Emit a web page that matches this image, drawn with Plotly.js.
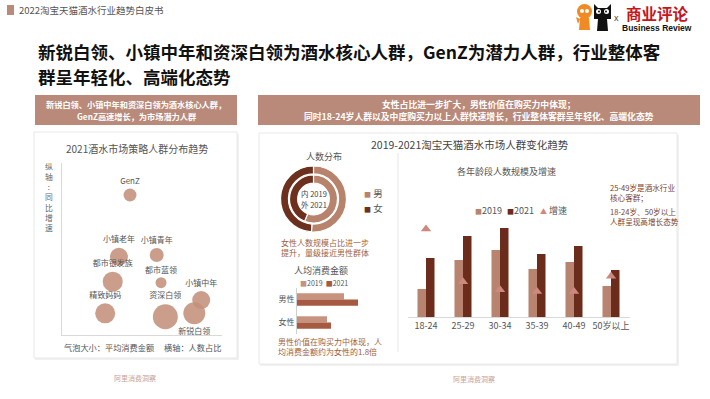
<!DOCTYPE html>
<html><head><meta charset="utf-8">
<script src="https://cdn.plot.ly/plotly-3.0.1.min.js"></script>
<style>html,body{margin:0;padding:0;background:#fff;overflow:hidden}#chart{width:710px;height:399px;}</style>
</head><body><div id="chart"></div>
<script>
// ---------------- DATA ----------------
const bubbleGroups = ['GenZ','小镇老年','小镇青年','都市银发族','都市蓝领','小镇中年','精致妈妈','资深白领','新锐白领'];
const bubbleShare  = [42.5, 35.6, 59.2, 31.7, 61.9, 87.0, 27.0, 64.6, 82.7];   // 横轴：人数占比
const bubbleGrowth = [81.4, 45.5, 46.5, 31.0, 30.4, 20.3, 12.6, 10.6, 12.6];   // 纵轴：同比增速
const bubbleSpend  = [13, 18, 14, 20, 11, 18, 20, 25, 22];                     // 气泡大小：平均消费金额

const genderLabels = ['男','女'];
const gender2019 = [56, 44];   // 内圈
const gender2021 = [51, 49];   // 外圈

const spendCats = ['男性','女性'];
const spend2019 = [47, 30];
const spend2021 = [61, 34];

const ageCats = ['18-24','25-29','30-34','35-39','40-49','50岁以上'];
const age2019 = [28, 57, 67, 48, 55, 31];
const age2021 = [59, 81, 89, 63, 71, 47];
const ageGrowth = [1.10, 0.44, 0.34, 0.32, 0.32, 0.51];

const yearNames = ['2019','2021'];
const growthName = '增速';

// ---------------- HELPERS ----------------
const W = 710, H = 399;
const px = x => x / W, py = y => 1 - y / H;
const FONT = '"Noto Sans CJK SC","Noto Sans",sans-serif';
const HEAD = '#b98a79';
const C19 = '#b9846f', C21 = '#6b2c1b', CTRI = '#cf8880', CBUB = '#c4917c';
const CM = '#b7836d', CF = '#6e301e';
const CS19 = '#c7937f', CS21 = '#a65a42';
const BROWN_TXT = '#a0623f';

function T(text, x, y, size, color, o) {
  return Object.assign({xref:'paper', yref:'paper', x:px(x), y:py(y), text:text, showarrow:false,
    font:{family:FONT, size:size, color:color}, xanchor:'center', yanchor:'middle'}, o || {});
}
function R(x0,y0,x1,y1,fill,line,type){
  return {type:type||'rect', xref:'paper', yref:'paper', x0:px(x0), x1:px(x1), y0:py(y1), y1:py(y0),
    fillcolor:fill, line:line||{width:0}, layer:'below'};
}
function P(pts, fill){
  let d = pts.map((p,i)=>(i?'L':'M')+px(p[0]).toFixed(5)+','+py(p[1]).toFixed(5)).join('')+'Z';
  return {type:'path', xref:'paper', yref:'paper', path:d, fillcolor:fill, line:{width:0}, layer:'above'};
}

// ---------------- TRACES ----------------
const traces = [];
traces.push({
  type:'scatter', mode:'markers+text', x:bubbleShare, y:bubbleGrowth, text:bubbleGroups,
  textposition: bubbleGroups.map(g => g === '新锐白领' ? 'bottom center' : 'top center'),
  textfont:{family:FONT, size:8, color:'#555'},
  marker:{size:bubbleSpend, sizemode:'diameter', sizeref:1, color:CBUB, opacity:0.88, line:{width:0}},
  xaxis:'x', yaxis:'y', cliponaxis:false, hoverinfo:'skip', showlegend:false
});
// donut: outer 2021, inner 2019
const dcx = 313.5, dcy = 199;
traces.push({
  type:'pie', labels:genderLabels, values:gender2021, hole:0.76, sort:false, direction:'clockwise', rotation:0,
  domain:{x:[px(dcx-33), px(dcx+33)], y:[py(dcy+33), py(dcy-33)]},
  marker:{colors:[CM, CF], line:{color:'#fff', width:1.2}}, textinfo:'none', hoverinfo:'skip', showlegend:false
});
traces.push({
  type:'pie', labels:genderLabels, values:gender2019, hole:0.66, sort:false, direction:'clockwise', rotation:0,
  domain:{x:[px(dcx-24), px(dcx+24)], y:[py(dcy+24), py(dcy-24)]},
  marker:{colors:[CM, CF], line:{color:'#fff', width:1.2}}, textinfo:'none', hoverinfo:'skip', showlegend:false
});
// horizontal bars
traces.push({type:'bar', orientation:'h', name:yearNames[0], y:spendCats, x:spend2019, width:0.27, offset:-0.27,
  marker:{color:CS19}, xaxis:'x2', yaxis:'y2', hoverinfo:'skip', showlegend:false});
traces.push({type:'bar', orientation:'h', name:yearNames[1], y:spendCats, x:spend2021, width:0.27, offset:0,
  marker:{color:CS21}, xaxis:'x2', yaxis:'y2', hoverinfo:'skip', showlegend:false});
// age bars
traces.push({type:'bar', name:yearNames[0], x:ageCats, y:age2019, width:0.23, offset:-0.23,
  marker:{color:C19}, xaxis:'x3', yaxis:'y3', hoverinfo:'skip', showlegend:false});
traces.push({type:'bar', name:yearNames[1], x:ageCats, y:age2021, width:0.23, offset:0,
  marker:{color:C21}, xaxis:'x3', yaxis:'y3', hoverinfo:'skip', showlegend:false});
traces.push({type:'scatter', mode:'markers', name:growthName, x:ageCats, y:ageGrowth,
  marker:{symbol:'triangle-up', size:9, color:CTRI}, xaxis:'x3', yaxis:'y4', cliponaxis:false, hoverinfo:'skip', showlegend:false});

// ---------------- ANNOTATIONS ----------------
const ann = [];
ann.push(T('2022淘宝天猫酒水行业趋势白皮书', 17, 10, 9.5, '#555', {xanchor:'left'}));
ann.push(T('<b>新锐白领、小镇中年和资深白领为酒水核心人群，GenZ为潜力人群，行业整体客</b>', 36, 51, 17.5, '#111', {xanchor:'left'}));
ann.push(T('<b>群呈年轻化、高端化态势</b>', 36, 76, 17.5, '#111', {xanchor:'left'}));
// logo
ann.push(T('<b>商业评论</b>', 657, 13, 15.5, '#c4161c', {font:{family:'"Noto Sans CJK SC"', size:15.5, color:'#c4161c'}}));
ann.push(T('<b>Business Review</b>', 657, 28, 8.5, '#111', {font:{family:'"Liberation Sans",Arial', size:8.5, color:'#111'}}));
ann.push(T('x', 616, 18, 9, '#444', {font:{family:'"Liberation Sans",Arial', size:9, color:'#444'}}));
// headers
ann.push(T('<b>新锐白领、小镇中年和资深白领为酒水核心人群，</b>', 136, 104, 8.2, '#fff'));
ann.push(T('<b>GenZ高速增长，为市场潜力人群</b>', 136, 116, 8.2, '#fff'));
ann.push(T('<b>女性占比进一步扩大，男性价值在购买力中体现；</b>', 479, 104, 8.8, '#fff'));
ann.push(T('<b>同时18-24岁人群以及中度购买力以上人群快速增长，行业整体客群呈年轻化、高端化态势</b>', 479, 116, 8.8, '#fff'));
// left card
ann.push(T('2021酒水市场策略人群分布趋势', 137, 148, 10, '#555'));
ann.push(T('纵<br>轴<br>:<br>同<br>比<br>增<br>速', 49, 197, 7.8, '#666'));
ann.push(T('气泡大小：平均消费金额', 62, 347, 8.2, '#555', {xanchor:'left'}));
ann.push(T('横轴：人数占比', 223, 347, 8.2, '#555', {xanchor:'right'}));
ann.push(T('阿里消费洞察', 135, 378, 7, '#c9a294'));
// right card
ann.push(T('2019-2021淘宝天猫酒水市场人群变化趋势', 470, 145, 10.5, '#444'));
ann.push(T('人数分布', 324, 156, 9, '#555'));
ann.push(T('内 2019', dcx, 193.5, 7.5, '#444'));
ann.push(T('外 2021', dcx, 204, 7.5, '#444'));
ann.push(T('<span style="color:'+CM+';font-size:7px">■</span> '+genderLabels[0], 362, 193, 9.5, '#555', {xanchor:'left'}));
ann.push(T('<span style="color:'+CF+';font-size:7px">■</span> '+genderLabels[1], 362, 208, 9.5, '#555', {xanchor:'left'}));
ann.push(T('女性人数规模占比进一步<br>提升，量级接近男性群体', 325, 247, 8, BROWN_TXT));
ann.push(T('人均消费金额', 321, 270, 9, '#555'));
ann.push(T('<span style="color:'+CS19+'">■</span>'+yearNames[0]+'  <span style="color:'+CS21+'">■</span>'+yearNames[1], 298, 283, 7, '#555', {xanchor:'left'}));
ann.push(T('男性价值在购买力中体现，人<br>均消费金额约为女性的1.8倍', 276, 346, 8, BROWN_TXT, {xanchor:'left', align:'left'}));
ann.push(T('各年龄段人数规模及增速', 506, 171, 9, '#555'));
ann.push(T('<span style="color:'+C19+';font-size:7px">■</span>'+yearNames[0], 473, 210, 9, '#555', {xanchor:'left'}));
ann.push(T('<span style="color:'+C21+';font-size:7px">■</span>'+yearNames[1], 505, 210, 9, '#555', {xanchor:'left'}));
ann.push(T('<span style="color:'+CTRI+';font-size:7px">▲</span> '+growthName, 538, 210, 9, '#555', {xanchor:'left'}));
ann.push(T('25-49岁是酒水行业<br>核心客群；', 608, 193, 7.6, '#7b3f2c', {xanchor:'left', align:'left'}));
ann.push(T('18-24岁、50岁以上<br>人群呈现高增长态势', 608, 216, 7.6, '#7b3f2c', {xanchor:'left', align:'left'}));
ann.push(T('阿里消费洞察', 474, 379, 7, '#c9a294'));

// ---------------- SHAPES ----------------
const shapes = [];
shapes.push(R(7,5,14,15,HEAD));
// cards with faint shadow
shapes.push(R(35,134,239,360,'#f1f1f1'));
shapes.push(R(34,132,237,358,'#fff',{color:'#e8e8e8',width:1}));
shapes.push(R(260,135,679,366,'#f1f1f1'));
shapes.push(R(259,133,677,364,'#fff',{color:'#e8e8e8',width:1}));
shapes.push(R(35,95,237,125,HEAD));
shapes.push(R(258,95,700,125,HEAD));
shapes.push({type:'line', xref:'paper', yref:'paper', x0:px(398), x1:px(398), y0:py(153), y1:py(352), line:{color:'#e6e6e6', width:1}, layer:'below'});
// logo mascots
shapes.push(Object.assign(R(577,4,592,19,'#f08a24',null,'circle'),{layer:'above'}));
shapes.push(P([[580,18],[589,18],[590,30],[579,30]],'#f08a24'));
shapes.push(P([[576,17],[580,19],[578,24]],'#f08a24'));
shapes.push(Object.assign(R(580,9,584,13,'#fff',null,'circle'),{layer:'above'}));
shapes.push(Object.assign(R(585,9,589,13,'#fff',null,'circle'),{layer:'above'}));
shapes.push(P([[594,19],[594,4],[598,8],[607,8],[611,4],[611,19]],'#111'));
shapes.push(P([[598,19],[607,19],[608,31],[597,31]],'#111'));
shapes.push(Object.assign(R(596,9,601,14,'#fff',null,'circle'),{layer:'above'}));
shapes.push(Object.assign(R(604,9,609,14,'#fff',null,'circle'),{layer:'above'}));
shapes.push(Object.assign(R(598,10.5,600,12.5,'#111',null,'circle'),{layer:'above'}));
shapes.push(Object.assign(R(605,10.5,607,12.5,'#111',null,'circle'),{layer:'above'}));

// ---------------- LAYOUT ----------------
const noAx = {showgrid:false, zeroline:false, showticklabels:false, ticks:'', fixedrange:true};
const layout = {
  width:W, height:H, margin:{l:0,r:0,t:0,b:0},
  paper_bgcolor:'#fff', plot_bgcolor:'rgba(0,0,0,0)',
  showlegend:false, font:{family:FONT, color:'#555'},
  xaxis:Object.assign({}, noAx, {domain:[px(62),px(222)], range:[0,100], showline:true, linecolor:'#d9d9d9', anchor:'y'}),
  yaxis:Object.assign({}, noAx, {domain:[py(335),py(163)], range:[0,100], showline:true, linecolor:'#d9d9d9', anchor:'x'}),
  xaxis2:Object.assign({}, noAx, {domain:[px(297),px(372)], range:[0,75], anchor:'y2'}),
  yaxis2:{domain:[py(334),py(288)], type:'category', range:[1.5,-0.5], showline:true, linecolor:'#d0d0d0',
    ticks:'', showgrid:false, zeroline:false, tickfont:{family:FONT, size:8, color:'#555'}, anchor:'x2', fixedrange:true},
  xaxis3:{domain:[px(407.5),px(629.5)], type:'category', range:[-0.5,5.5], showline:true, linecolor:'#d9d9d9',
    ticks:'', showgrid:false, zeroline:false, tickfont:{family:FONT, size:9, color:'#555'}, anchor:'y3', fixedrange:true},
  yaxis3:Object.assign({}, noAx, {domain:[py(317),py(217)], range:[0,100], anchor:'x3'}),
  yaxis4:Object.assign({}, noAx, {overlaying:'y3', range:[0,1.25], anchor:'x3', side:'right'}),
  annotations:ann, shapes:shapes
};
Plotly.newPlot('chart', traces, layout, {staticPlot:true, displayModeBar:false});
</script>
</body></html>
